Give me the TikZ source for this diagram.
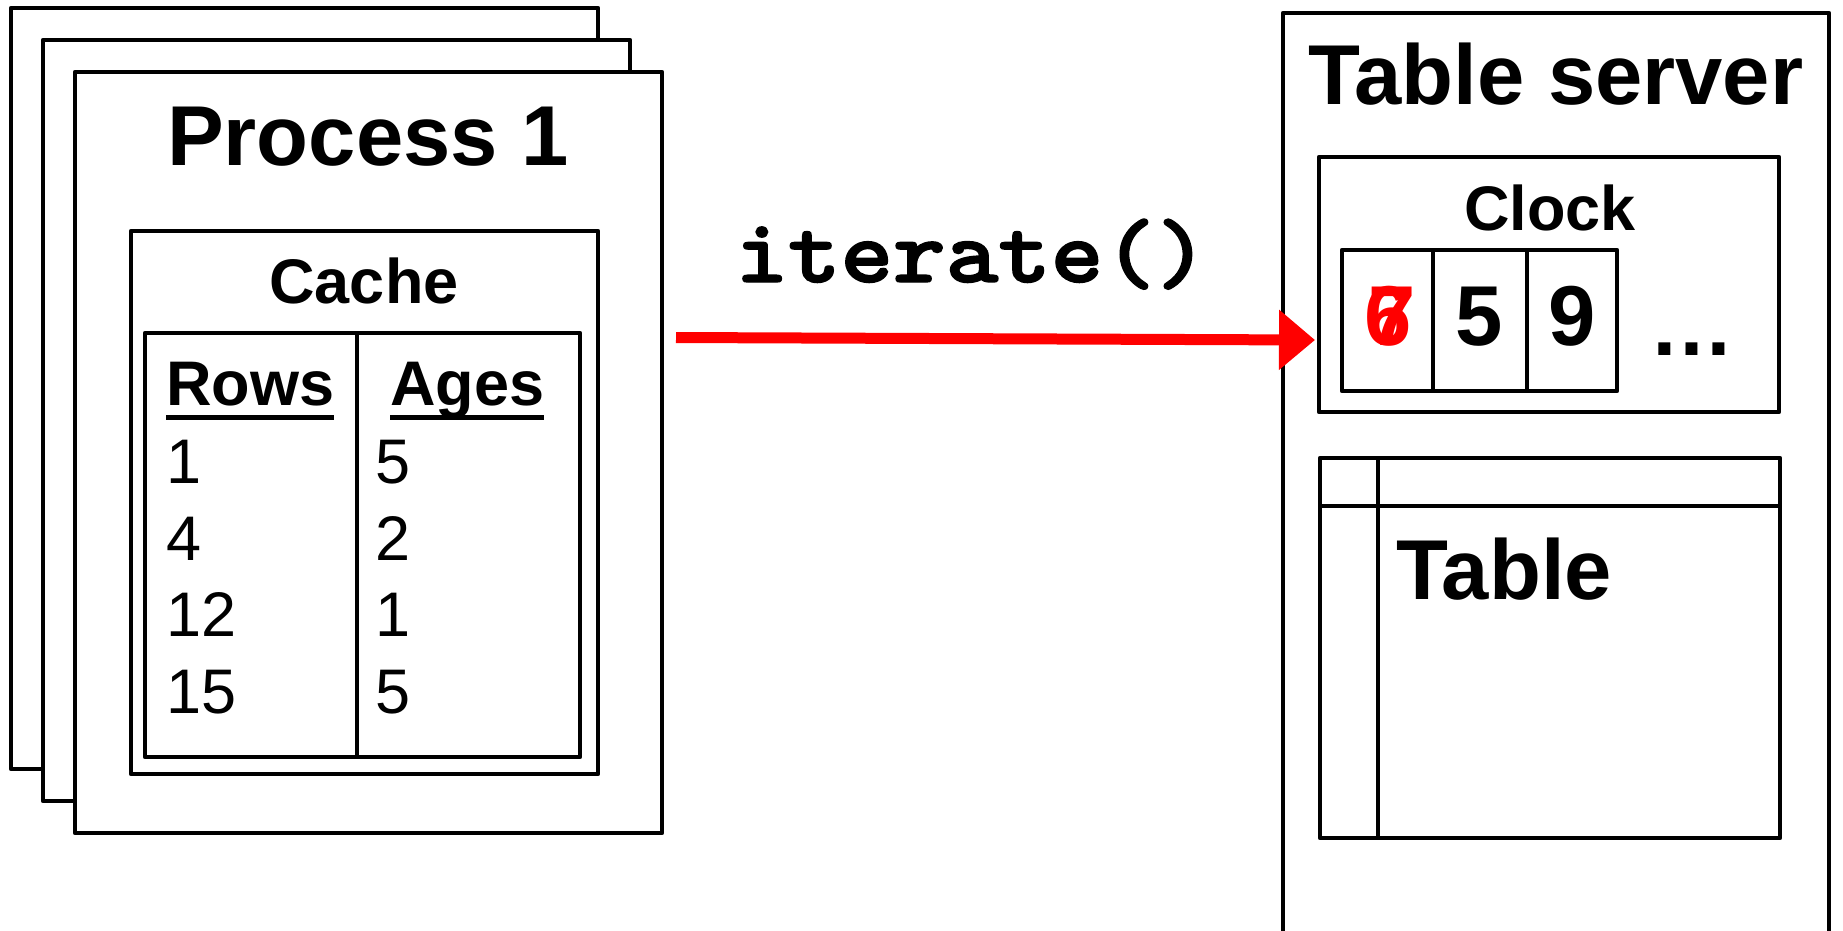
\documentclass[tikz,border=0pt]{standalone}
\usepackage{fontspec}
\setmainfont{Liberation Sans}
\newfontfamily\codefont[FakeBold=1.6]{lmmonolt10-bold.otf}
\usetikzlibrary{arrows.meta,calc}

\begin{document}
\begin{tikzpicture}[x=1pt,y=-1pt,
  box/.style={draw=black, line width=4.5pt, fill=white, line join=round,
    inner sep=0pt, outer sep=0pt},
  rule/.style={draw=black, line width=4.5pt},
  bigtext/.style={font=\fontsize{85}{90}\selectfont\bfseries, inner sep=0pt, anchor=base},
  midtext/.style={font=\fontsize{63}{70}\selectfont\bfseries, inner sep=0pt, anchor=base},
  numtext/.style={font=\fontsize{63}{70}\selectfont, inner sep=0pt, anchor=base west},
  codetext/.style={font=\fontsize{91}{95}\selectfont\codefont, inner sep=0pt, anchor=base},
  uline/.style={draw=black, line width=5pt},
  callarrow/.style={draw=red, line width=11pt, -{Triangle[length=36pt,width=58pt]}}
]
\useasboundingbox (0,0) rectangle (1843,930);
\clip (0,0) rectangle (1843,930);

% stack of process pages
\node[box, minimum width=587, minimum height=761] (p1) at (304.5,388.5) {};
\node[box, minimum width=587, minimum height=761] (p2) at (336.5,420.5) {};
\node[box, minimum width=587, minimum height=761] (p3) at (368.5,452.5) {};
\node[bigtext] (ptitle) at (368,165) {Process 1};

% cache with its rows/ages table
\node[box, minimum width=467, minimum height=543] (cache) at (364.5,502.5) {};
\node[midtext] (cachelbl) at (364,303) {Cache};
\node[box, minimum width=435, minimum height=424] (ctab) at (362.5,545) {};
\draw[rule] ($(ctab.north west)+(212,0)$) -- ($(ctab.south west)+(212,0)$);

\node[midtext, anchor=base west] (rows) at (166,405) {Rows};
\node[midtext, anchor=base west] (ages) at (390,405) {Ages};
\draw[uline] ([yshift=-12pt]rows.base west) -- ([yshift=-12pt]rows.base east);
\draw[uline] ([yshift=-12pt]ages.base west) -- ([yshift=-12pt]ages.base east);

\node[numtext] (r1) at (166,483) {1};
\node[numtext] (r2) at (166,560) {4};
\node[numtext] (r3) at (166,636) {12};
\node[numtext] (r4) at (166,713) {15};
\node[numtext] (a1) at (375,483) {5};
\node[numtext] (a2) at (375,560) {2};
\node[numtext] (a3) at (375,636) {1};
\node[numtext] (a4) at (375,713) {5};

% table server
\node[box, minimum width=546, minimum height=987] (server) at (1556,506.5) {};
\node[bigtext] (stitle) at (1556,104) {Table server};

% clock vector
\node[box, minimum width=460, minimum height=255] (clock) at (1549,284.5) {};
\node[midtext] (clocklbl) at (1550,230) {Clock};
\node[box, minimum width=91, minimum height=141] (c1) at (1387.5,320.5) {};
\node[box, minimum width=94, minimum height=141] (c2) at (1480,320.5) {};
\node[box, minimum width=90, minimum height=141] (c3) at (1572,320.5) {};
\node[bigtext, text=red] (old) at (1388,345) {6};
\node[bigtext, text=red] (new) at (1392,345) {7};
\node[bigtext] (v2) at (1479,345) {5};
\node[bigtext] (v3) at (1572,345) {9};
\node[bigtext] (more) at (1692,355) {…};

% table
\node[box, minimum width=460, minimum height=380] (tbl) at (1550,648) {};
\draw[rule] ($(tbl.north west)+(0,48)$) -- ($(tbl.north east)+(0,48)$);
\draw[rule] ($(tbl.north west)+(58,0)$) -- ($(tbl.south west)+(58,0)$);
\node[bigtext, anchor=base west] (tbllbl) at (1396,599) {Table};

% call from the process to the server
\node[codetext] (call) at (972,282) {\scalebox{1.1}[1]{iterate()}};
\coordinate (callstart) at (676,337.5);
\draw[callarrow] (callstart) -- ([xshift=-4pt,yshift=-55.5pt]clock.west);
\end{tikzpicture}
\end{document}
